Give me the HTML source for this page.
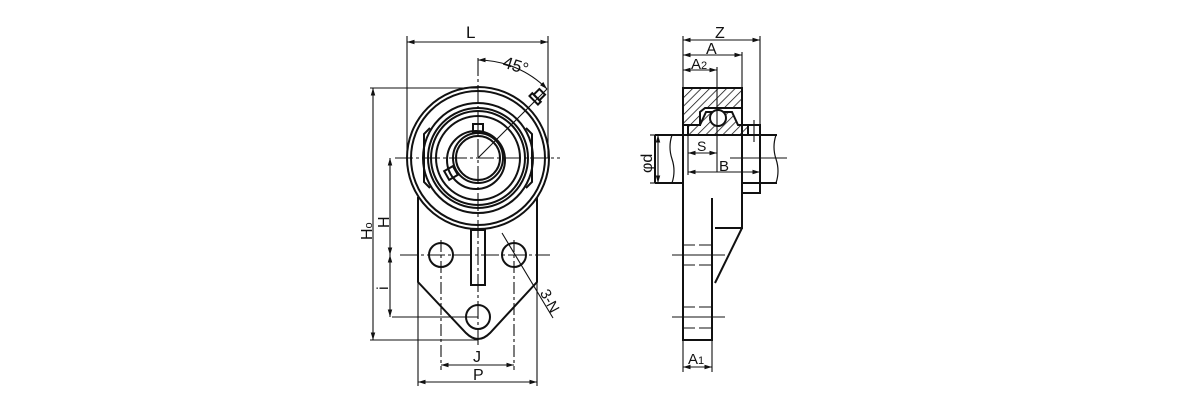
<!DOCTYPE html>
<html><head><meta charset="utf-8"><style>
html,body{margin:0;padding:0;background:#fff;}
svg{display:block;}
text{font-family:"Liberation Sans",sans-serif;fill:#111;}
</style></head><body>
<svg width="1200" height="400" viewBox="0 0 1200 400" xmlns="http://www.w3.org/2000/svg">
<defs>
<marker id="a" viewBox="0 0 10 10" refX="10" refY="5" markerWidth="7" markerHeight="7" orient="auto-start-reverse"><path d="M0,2 L10,5 L0,8 z" fill="#111"/></marker>
<pattern id="h" width="6" height="6" patternUnits="userSpaceOnUse" patternTransform="rotate(45)"><line x1="0" y1="0" x2="0" y2="6" stroke="#111" stroke-width="1.5"/></pattern>
</defs>
<g stroke="#111" fill="none" stroke-width="2">
<path d="M418,197 L418,282 L466,333 Q478,345 490,333 L537,282 L537,197"/>
<circle cx="478" cy="158" r="71" fill="#fff"/>
<circle cx="478" cy="158" r="67"/>
<circle cx="478" cy="158" r="55"/>
<circle cx="478" cy="158" r="50"/>
<circle cx="478" cy="158" r="47"/>
<circle cx="478" cy="158" r="42"/>
<circle cx="476" cy="160" r="29"/>
<circle cx="478" cy="158" r="25"/>
<circle cx="478" cy="158" r="22"/>
<path d="M430,128 L424,134 L424,182 L430,188 M526,128 L532,134 L532,182 L526,188"/>
<rect x="473" y="124" width="10" height="9"/>
<rect x="446" y="168" width="10" height="10" transform="rotate(-30 451 173)"/>
<rect x="471" y="230" width="14" height="55"/>
<circle cx="441" cy="255" r="12"/>
<circle cx="514" cy="255" r="12"/>
<circle cx="478" cy="317" r="12"/>
<g transform="rotate(45 533 101)"><rect x="527" y="96" width="12" height="4"/><rect x="529" y="88" width="8" height="8"/></g>
</g>
<g stroke="#111" stroke-width="1.1" fill="none">
<line x1="395" y1="158" x2="560" y2="158" stroke-dasharray="18,3,3,3"/>
<line x1="478" y1="58" x2="478" y2="345" stroke-dasharray="18,3,3,3"/>
<line x1="478" y1="158" x2="547" y2="89"/>
<line x1="400" y1="255" x2="550" y2="255" stroke-dasharray="18,3,3,3"/>
<line x1="441" y1="240" x2="441" y2="370" stroke-dasharray="12,3,3,3"/>
<line x1="514" y1="240" x2="514" y2="370" stroke-dasharray="12,3,3,3"/>
<line x1="392" y1="317" x2="478" y2="317"/>
<line x1="407" y1="36" x2="407" y2="158"/>
<line x1="548" y1="36" x2="548" y2="158"/>
<line x1="407" y1="42" x2="548" y2="42" marker-start="url(#a)" marker-end="url(#a)"/>
<path d="M478,60 A98,98 0 0 1 547,89" marker-start="url(#a)" marker-end="url(#a)"/>
<line x1="370" y1="88" x2="478" y2="88"/>
<line x1="370" y1="340" x2="478" y2="340"/>
<line x1="373" y1="88" x2="373" y2="340" marker-start="url(#a)" marker-end="url(#a)"/>
<line x1="390" y1="158" x2="390" y2="255" marker-start="url(#a)" marker-end="url(#a)"/>
<line x1="390" y1="255" x2="390" y2="317" marker-start="url(#a)" marker-end="url(#a)"/>
<line x1="418" y1="282" x2="418" y2="386"/>
<line x1="537" y1="282" x2="537" y2="386"/>
<line x1="441" y1="365" x2="514" y2="365" marker-start="url(#a)" marker-end="url(#a)"/>
<line x1="418" y1="382" x2="537" y2="382" marker-start="url(#a)" marker-end="url(#a)"/>
<line x1="502" y1="233" x2="553" y2="318"/>
</g>
<text x="466" y="38" font-size="17">L</text>
<text x="503" y="71" font-size="17" transform="rotate(18 515 65)">45°</text>
<text x="361" y="229" font-size="16" transform="rotate(-90 372 229)">H<tspan font-size="11">o</tspan></text>
<text x="378" y="217" font-size="16" transform="rotate(-90 389 217)">H</text>
<text x="385" y="287" font-size="16" transform="rotate(-90 388 287)">i</text>
<text x="473" y="362" font-size="16">J</text>
<text x="473" y="380" font-size="16">P</text>
<text x="537" y="303" font-size="15" transform="rotate(62 547 300)">3-N</text>

<g stroke="#111" fill="none" stroke-width="2">
<path d="M683,88 L742,88 L742,108 L705,108 L700,112 L700,125 L683,125 Z" fill="url(#h)"/>
<path d="M688,125 L688,135 L748,135 L748,125 L738,125 L732,112 L706,112 L700,125 Z" fill="url(#h)"/>
<circle cx="718" cy="118" r="8" fill="#fff"/>
<rect x="748" y="125" width="12" height="10"/>
<path d="M683,88 L683,340 L712,340 L712,198"/>
<path d="M742,88 L742,228 L715,228 M742,228 L715,283"/>
<path d="M742,183 L742,193 L760,193 L760,125"/>
<path d="M655,135 L777,135 M655,183 L683,183 M742,183 L777,183 M655,135 L655,183"/>
<path d="M672,135 q-4,12 0,24 q4,12 0,24 M776,135 q-4,12 0,24 q4,12 0,24" stroke-width="1.2"/>
</g>
<g stroke="#111" stroke-width="1.1" fill="none">
<line x1="683" y1="36" x2="683" y2="88"/>
<line x1="760" y1="36" x2="760" y2="125"/>
<line x1="742" y1="52" x2="742" y2="88"/>
<line x1="717" y1="67" x2="717" y2="172"/>
<line x1="683" y1="40" x2="760" y2="40" marker-start="url(#a)" marker-end="url(#a)"/>
<line x1="683" y1="55" x2="742" y2="55" marker-start="url(#a)" marker-end="url(#a)"/>
<line x1="683" y1="70" x2="717" y2="70" marker-start="url(#a)" marker-end="url(#a)"/>
<line x1="688" y1="135" x2="688" y2="175"/>
<line x1="688" y1="153" x2="717" y2="153" marker-start="url(#a)" marker-end="url(#a)"/>
<line x1="688" y1="172" x2="760" y2="172" marker-start="url(#a)" marker-end="url(#a)"/>
<line x1="650" y1="135" x2="660" y2="135"/>
<line x1="650" y1="183" x2="660" y2="183"/>
<line x1="658" y1="135" x2="658" y2="183" marker-start="url(#a)" marker-end="url(#a)"/>
<line x1="730" y1="158" x2="787" y2="158"/>
<line x1="683" y1="340" x2="683" y2="372"/>
<line x1="712" y1="340" x2="712" y2="372"/>
<line x1="683" y1="367" x2="712" y2="367" marker-start="url(#a)" marker-end="url(#a)"/>
<line x1="672" y1="255" x2="725" y2="255"/>
<line x1="672" y1="317" x2="725" y2="317"/>
<line x1="683" y1="245" x2="712" y2="245" stroke-dasharray="12,4"/>
<line x1="683" y1="265" x2="712" y2="265" stroke-dasharray="12,4"/>
<line x1="683" y1="307" x2="712" y2="307" stroke-dasharray="12,4"/>
<line x1="683" y1="328" x2="712" y2="328" stroke-dasharray="12,4"/>
<line x1="754" y1="120" x2="754" y2="142"/>
</g>
<text x="715" y="38" font-size="16">Z</text>
<text x="706" y="54" font-size="16">A</text>
<text x="691" y="69" font-size="15">A<tspan font-size="11">2</tspan></text>
<text x="697" y="151" font-size="14">S</text>
<text x="719" y="171" font-size="15">B</text>
<text x="642" y="163" font-size="16" transform="rotate(-90 652 163)">φd</text>
<text x="688" y="364" font-size="15">A<tspan font-size="11">1</tspan></text>
</svg>
</body></html>
